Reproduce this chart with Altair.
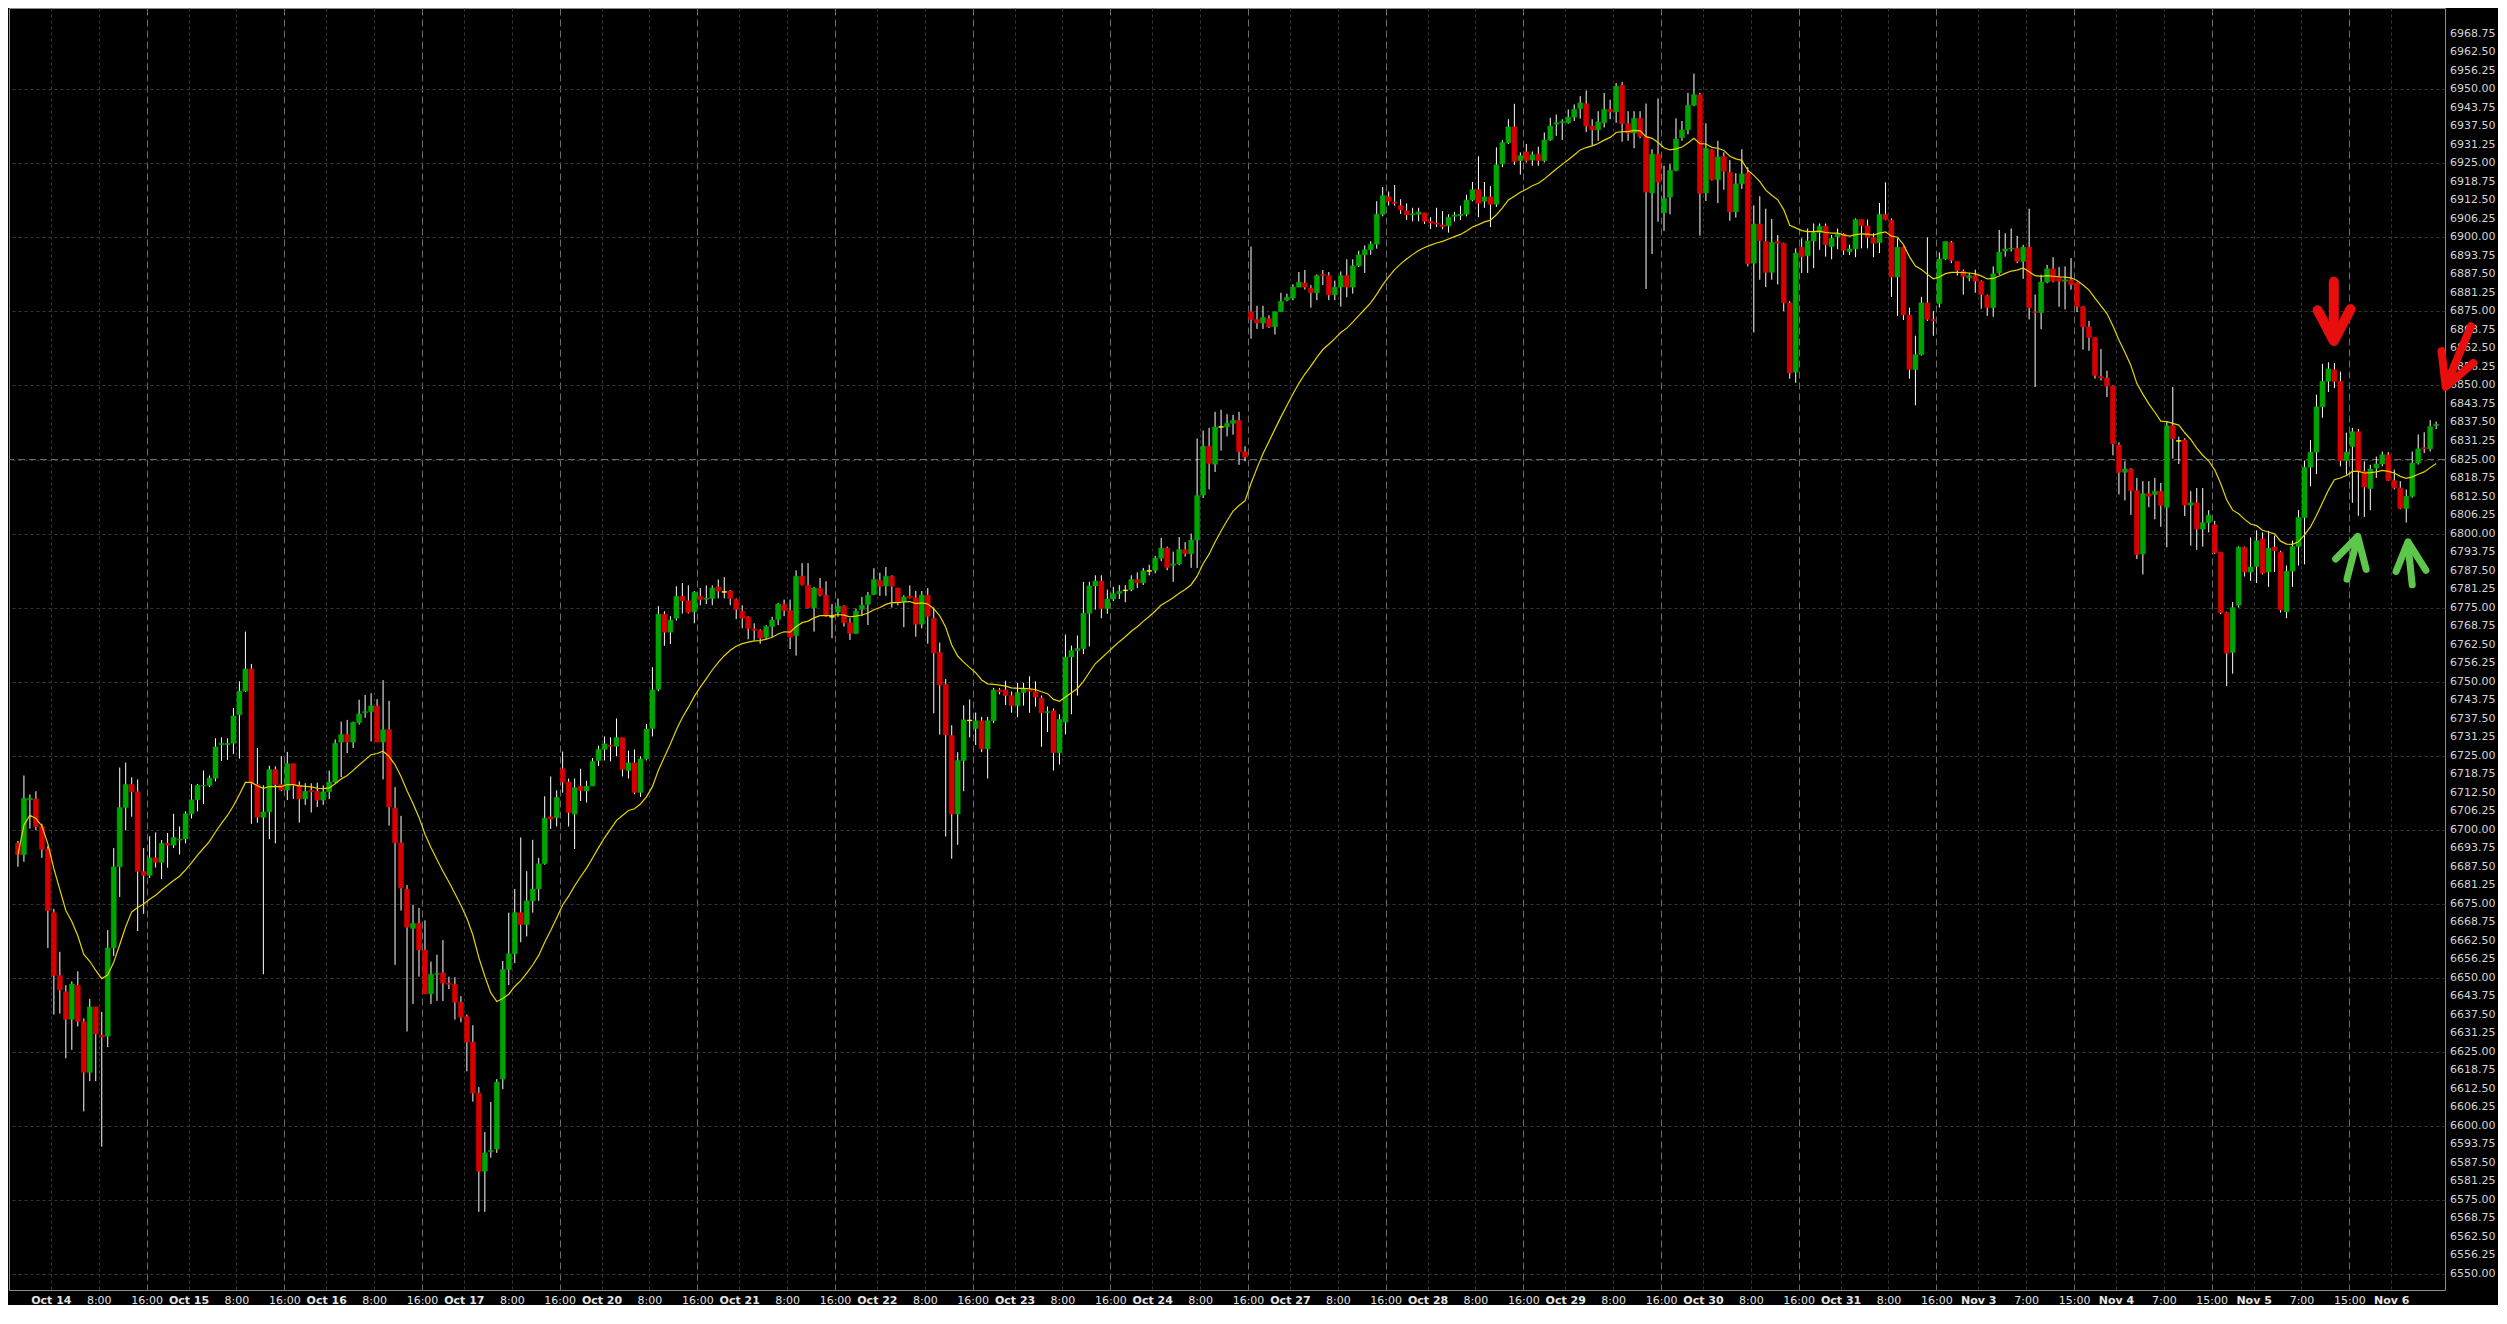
import altair as alt
import pandas as pd

# ---------------- data (H1 candles) ----------------
OPEN = [
6695.4, 6691.6, 6710.1, 6710.4, 6701.1, 6693.4, 6672.0, 6650.8, 6645.3, 6636.0,
6647.5, 6635.2, 6618.1, 6640.2, 6630.6, 6630.3, 6660.1, 6687.5, 6707.5, 6715.3,
6712.8, 6685.9, 6684.6, 6690.5, 6689.0, 6695.4, 6694.8, 6696.5, 6696.9, 6705.4,
6710.1, 6714.8, 6715.0, 6717.4, 6728.7, 6728.7, 6729.2, 6738.8, 6746.8, 6754.3,
6715.3, 6704.2, 6706.0, 6720.3, 6715.3, 6713.4, 6722.3, 6715.0, 6710.4, 6713.3,
6713.0, 6710.0, 6712.8, 6716.1, 6729.6, 6732.2, 6729.6, 6736.2, 6739.5, 6739.9,
6741.8, 6729.6, 6733.8, 6707.3, 6695.6, 6679.9, 6666.7, 6668.4, 6659.4, 6644.6,
6651.2, 6651.7, 6648.2, 6647.8, 6641.8, 6636.9, 6628.3, 6611.1, 6584.7, 6591.3,
6592.2, 6615.8, 6652.8, 6658.1, 6672.0, 6668.0, 6676.0, 6680.0, 6688.6, 6704.4,
6704.1, 6720.6, 6716.1, 6705.3, 6714.7, 6713.1, 6714.8, 6723.4, 6727.1, 6728.6,
6728.2, 6731.1, 6720.0, 6722.6, 6712.6, 6723.9, 6734.2, 6747.4, 6772.8, 6766.7,
6771.4, 6778.8, 6777.3, 6773.6, 6778.8, 6777.8, 6778.1, 6782.0, 6780.3, 6780.6,
6777.8, 6773.8, 6771.9, 6767.8, 6767.2, 6765.0, 6768.6, 6771.0, 6776.1, 6774.0,
6765.5, 6785.6, 6782.5, 6775.0, 6781.6, 6779.2, 6771.9, 6773.4, 6775.5, 6769.9,
6766.3, 6774.4, 6776.1, 6779.4, 6784.2, 6782.3, 6785.6, 6781.6, 6776.9, 6778.9,
6778.3, 6769.4, 6779.2, 6771.4, 6759.9, 6749.1, 6731.8, 6705.3, 6723.4, 6736.9,
6734.2, 6736.8, 6727.3, 6736.8, 6747.2, 6747.2, 6745.3, 6741.9, 6746.3, 6747.4,
6746.7, 6744.5, 6739.5, 6740.2, 6726.0, 6736.3, 6758.3, 6760.5, 6761.2, 6773.1,
6782.3, 6784.0, 6774.7, 6777.9, 6779.8, 6780.8, 6781.1, 6784.5, 6783.4, 6787.4,
6787.6, 6791.7, 6795.1, 6789.3, 6789.8, 6794.6, 6793.2, 6797.8, 6813.0, 6829.5,
6823.4, 6836.0, 6836.0, 6837.2, 6838.2, 6827.6, 6874.9, 6872.3, 6871.1, 6872.6,
6869.8, 6874.9, 6878.8, 6879.5, 6883.2, 6884.6, 6882.9, 6881.3, 6887.5, 6887.1,
6880.6, 6883.2, 6887.1, 6883.2, 6890.4, 6894.1, 6895.8, 6897.7, 6907.8, 6913.7,
6911.9, 6910.7, 6909.0, 6907.6, 6907.8, 6908.3, 6905.4, 6904.8, 6904.2, 6903.9,
6907.1, 6907.4, 6907.8, 6912.6, 6916.1, 6912.2, 6913.7, 6911.2, 6924.8, 6932.0,
6937.3, 6925.9, 6928.9, 6926.1, 6928.1, 6925.9, 6932.9, 6938.2, 6938.7, 6938.7,
6940.6, 6943.5, 6945.1, 6937.6, 6936.3, 6938.7, 6943.2, 6942.4, 6951.3, 6938.4,
6935.2, 6940.2, 6934.1, 6915.0, 6928.1, 6908.3, 6913.6, 6922.6, 6933.7, 6936.3,
6944.6, 6948.2, 6915.0, 6929.6, 6919.5, 6927.4, 6922.0, 6908.6, 6918.1, 6921.8,
6891.3, 6904.5, 6898.6, 6888.2, 6898.6, 6898.0, 6877.9, 6854.5, 6896.7, 6893.8,
6898.8, 6901.6, 6903.8, 6896.9, 6900.2, 6901.1, 6895.2, 6896.1, 6906.0, 6903.9,
6900.0, 6898.2, 6907.8, 6905.8, 6886.6, 6896.7, 6873.8, 6855.4, 6860.4, 6877.9,
6872.3, 6877.7, 6892.7, 6898.3, 6891.9, 6888.5, 6886.3, 6887.1, 6885.2, 6880.4,
6876.3, 6888.0, 6895.4, 6896.1, 6896.3, 6891.9, 6896.7, 6874.9, 6874.6, 6884.9,
6889.4, 6886.6, 6885.2, 6885.7, 6884.6, 6876.6, 6869.8, 6866.2, 6853.0, 6852.5,
6849.8, 6829.9, 6820.7, 6821.8, 6814.5, 6793.1, 6813.5, 6813.2, 6814.3, 6808.9,
6836.4, 6831.3, 6831.6, 6809.6, 6810.4, 6801.5, 6803.7, 6803.0, 6793.7, 6773.3,
6759.9, 6775.8, 6795.4, 6787.0, 6788.9, 6798.2, 6787.0, 6795.4, 6793.7, 6773.6,
6787.3, 6795.6, 6805.4, 6822.4, 6827.5, 6842.8, 6851.4, 6855.3, 6851.4, 6824.6,
6829.4, 6834.4, 6821.0, 6815.2, 6822.1, 6823.5, 6826.6, 6817.9, 6815.4, 6808.5,
6812.6, 6823.8, 6829.0, 6828.6, 6836.4,
]

HIGH = [
6696.2, 6718.3, 6711.9, 6713.0, 6702.0, 6694.5, 6673.3, 6658.8, 6647.5, 6648.8,
6652.2, 6636.3, 6642.9, 6640.2, 6638.5, 6666.1, 6693.8, 6721.0, 6722.7, 6717.7,
6717.0, 6693.8, 6697.8, 6699.1, 6696.5, 6698.9, 6705.4, 6701.1, 6706.2, 6715.4,
6715.4, 6720.0, 6718.3, 6730.9, 6731.2, 6730.9, 6741.1, 6750.1, 6766.9, 6756.0,
6727.6, 6715.0, 6721.6, 6721.4, 6724.9, 6726.3, 6722.3, 6716.3, 6715.7, 6715.7,
6715.9, 6715.0, 6720.0, 6730.5, 6736.5, 6737.1, 6736.5, 6743.9, 6745.5, 6746.1,
6744.1, 6750.5, 6743.5, 6714.4, 6704.7, 6681.3, 6674.7, 6673.6, 6669.4, 6655.5,
6657.8, 6662.7, 6650.4, 6650.2, 6643.8, 6637.6, 6634.0, 6613.1, 6597.9, 6608.1,
6615.8, 6655.7, 6672.0, 6680.0, 6697.4, 6686.0, 6696.6, 6690.5, 6711.3, 6718.0,
6713.3, 6726.4, 6717.3, 6717.3, 6720.6, 6716.5, 6724.2, 6728.4, 6731.5, 6731.2,
6737.6, 6731.1, 6726.7, 6727.1, 6724.8, 6735.7, 6754.9, 6775.5, 6773.8, 6772.1,
6782.2, 6783.3, 6782.5, 6780.6, 6781.6, 6782.5, 6782.5, 6784.5, 6785.3, 6780.9,
6778.1, 6775.8, 6772.1, 6769.7, 6767.7, 6769.1, 6771.9, 6776.6, 6777.7, 6777.7,
6787.6, 6790.0, 6790.0, 6782.0, 6785.0, 6783.9, 6776.2, 6778.1, 6775.8, 6771.4,
6774.7, 6778.6, 6780.3, 6788.3, 6786.8, 6788.7, 6785.9, 6781.7, 6779.2, 6782.5,
6780.6, 6780.6, 6781.6, 6775.0, 6763.2, 6750.9, 6735.3, 6726.2, 6742.0, 6744.0,
6739.6, 6738.1, 6738.1, 6747.9, 6747.9, 6750.3, 6746.7, 6749.6, 6749.6, 6751.8,
6750.1, 6745.3, 6741.6, 6741.0, 6739.0, 6765.9, 6762.2, 6765.6, 6783.7, 6783.7,
6785.9, 6785.9, 6781.1, 6782.0, 6782.6, 6782.6, 6785.9, 6786.9, 6788.4, 6789.5,
6792.5, 6798.5, 6795.6, 6793.9, 6798.8, 6797.1, 6800.0, 6832.1, 6834.8, 6835.7,
6841.1, 6841.8, 6840.3, 6840.1, 6841.1, 6829.5, 6896.9, 6876.9, 6876.9, 6873.7,
6874.9, 6881.3, 6881.0, 6884.2, 6888.3, 6889.0, 6883.9, 6887.5, 6889.0, 6888.3,
6885.4, 6888.5, 6892.6, 6892.6, 6895.5, 6897.3, 6898.7, 6912.2, 6917.0, 6915.5,
6917.7, 6912.9, 6911.5, 6910.0, 6910.0, 6908.3, 6906.8, 6910.0, 6908.9, 6907.8,
6908.6, 6910.7, 6914.4, 6918.7, 6927.4, 6918.7, 6917.3, 6930.4, 6932.8, 6939.9,
6945.1, 6928.7, 6931.5, 6929.0, 6930.6, 6935.4, 6940.4, 6941.5, 6939.9, 6943.2,
6944.9, 6947.7, 6949.6, 6939.9, 6942.6, 6948.8, 6946.5, 6952.1, 6952.5, 6942.6,
6942.6, 6942.6, 6945.2, 6929.8, 6946.9, 6924.2, 6924.8, 6940.2, 6939.3, 6948.8,
6955.3, 6948.8, 6938.5, 6929.8, 6932.6, 6928.7, 6926.1, 6921.7, 6929.8, 6923.7,
6910.8, 6913.9, 6909.7, 6906.2, 6900.8, 6898.2, 6878.5, 6896.3, 6899.7, 6903.0,
6904.7, 6904.7, 6904.7, 6900.8, 6903.0, 6901.4, 6897.5, 6906.4, 6906.0, 6906.0,
6901.4, 6911.6, 6918.6, 6906.4, 6899.7, 6896.9, 6876.3, 6866.8, 6879.9, 6900.0,
6875.1, 6894.9, 6898.6, 6898.8, 6891.9, 6889.1, 6888.0, 6889.1, 6885.5, 6880.7,
6890.2, 6902.5, 6901.4, 6903.0, 6900.5, 6897.5, 6909.7, 6880.7, 6887.4, 6890.7,
6893.3, 6890.0, 6890.2, 6893.0, 6884.8, 6876.8, 6871.8, 6866.2, 6862.3, 6855.0,
6850.0, 6830.8, 6824.4, 6822.1, 6818.8, 6817.7, 6817.7, 6818.8, 6817.1, 6837.8,
6849.5, 6832.7, 6832.2, 6814.3, 6815.4, 6815.4, 6807.9, 6804.3, 6793.7, 6773.6,
6776.9, 6795.7, 6795.6, 6798.7, 6801.1, 6800.4, 6800.9, 6799.3, 6794.2, 6789.2,
6797.6, 6807.9, 6824.6, 6831.6, 6846.9, 6857.3, 6857.8, 6857.6, 6854.7, 6834.1,
6835.7, 6835.3, 6824.4, 6823.2, 6826.0, 6827.7, 6827.5, 6821.6, 6817.7, 6814.9,
6827.7, 6833.5, 6834.2, 6838.3, 6837.8,
]

LOW = [
6687.5, 6689.2, 6700.4, 6699.8, 6690.5, 6660.1, 6637.6, 6637.9, 6622.8, 6625.7,
6633.6, 6604.9, 6615.1, 6615.1, 6593.0, 6626.6, 6657.4, 6677.3, 6699.8, 6704.4,
6665.8, 6671.6, 6683.7, 6687.2, 6683.3, 6687.2, 6693.8, 6691.6, 6695.4, 6703.8,
6706.2, 6708.7, 6714.4, 6716.3, 6723.2, 6723.6, 6725.6, 6724.0, 6746.5, 6702.0,
6702.4, 6651.2, 6696.8, 6695.4, 6713.0, 6710.0, 6710.4, 6702.4, 6708.4, 6705.8,
6707.7, 6708.4, 6710.4, 6715.7, 6717.7, 6725.9, 6727.6, 6735.5, 6737.8, 6729.8,
6729.6, 6717.0, 6701.4, 6654.4, 6672.7, 6631.9, 6641.2, 6650.4, 6644.6, 6641.2,
6642.2, 6642.2, 6646.2, 6635.9, 6635.0, 6618.4, 6608.2, 6571.0, 6571.0, 6589.3,
6590.9, 6612.4, 6647.5, 6655.0, 6662.0, 6664.0, 6672.0, 6676.0, 6688.2, 6700.3,
6701.1, 6712.5, 6701.1, 6693.5, 6709.7, 6709.2, 6714.8, 6721.5, 6723.4, 6723.1,
6724.8, 6718.0, 6717.3, 6712.0, 6711.1, 6723.4, 6731.5, 6746.8, 6762.1, 6762.7,
6770.6, 6773.0, 6773.0, 6769.7, 6775.8, 6776.2, 6775.8, 6778.1, 6778.1, 6775.8,
6771.1, 6768.0, 6764.3, 6764.1, 6762.8, 6764.3, 6765.0, 6769.1, 6772.1, 6761.0,
6758.8, 6782.5, 6774.7, 6766.9, 6778.8, 6771.9, 6764.7, 6771.9, 6768.6, 6764.1,
6766.1, 6772.1, 6769.1, 6779.2, 6779.0, 6779.0, 6775.0, 6775.8, 6768.4, 6778.1,
6765.2, 6768.0, 6762.8, 6739.3, 6732.1, 6697.7, 6690.2, 6694.9, 6713.0, 6731.2,
6728.6, 6726.2, 6717.3, 6736.0, 6745.7, 6742.1, 6739.5, 6738.0, 6741.9, 6739.5,
6741.6, 6728.0, 6733.0, 6720.0, 6722.0, 6732.2, 6739.0, 6745.3, 6759.3, 6761.9,
6774.3, 6771.4, 6772.9, 6777.2, 6777.9, 6776.8, 6780.5, 6781.6, 6782.6, 6785.9,
6786.6, 6790.7, 6787.6, 6783.7, 6789.3, 6792.2, 6788.4, 6788.4, 6812.0, 6814.9,
6820.8, 6828.0, 6832.8, 6833.4, 6823.2, 6824.4, 6865.8, 6869.1, 6869.1, 6869.4,
6867.2, 6874.9, 6878.4, 6878.8, 6883.2, 6882.4, 6876.3, 6878.8, 6883.9, 6878.8,
6878.8, 6876.6, 6879.8, 6881.0, 6890.0, 6888.0, 6894.1, 6896.2, 6907.1, 6910.7,
6910.7, 6907.9, 6905.9, 6905.4, 6905.4, 6904.5, 6902.8, 6903.5, 6902.8, 6901.6,
6905.4, 6905.9, 6907.1, 6912.2, 6906.8, 6910.0, 6903.5, 6910.3, 6923.7, 6931.5,
6924.5, 6921.2, 6925.3, 6924.2, 6924.2, 6925.3, 6932.6, 6934.3, 6932.9, 6938.4,
6939.3, 6940.1, 6935.6, 6930.9, 6932.6, 6937.1, 6939.9, 6938.7, 6932.3, 6932.6,
6930.1, 6933.5, 6882.6, 6894.4, 6905.3, 6902.2, 6907.8, 6922.3, 6932.6, 6934.8,
6944.3, 6900.6, 6912.3, 6919.2, 6911.6, 6916.1, 6905.6, 6906.7, 6916.4, 6890.2,
6867.9, 6885.7, 6883.2, 6885.7, 6884.1, 6875.1, 6852.3, 6850.9, 6888.0, 6888.0,
6889.6, 6895.8, 6893.5, 6892.6, 6896.0, 6894.1, 6894.1, 6893.3, 6896.3, 6896.3,
6893.3, 6894.7, 6905.8, 6879.9, 6873.5, 6872.1, 6852.3, 6843.3, 6860.1, 6871.8,
6866.8, 6876.3, 6892.4, 6891.3, 6887.1, 6880.7, 6885.2, 6881.3, 6875.9, 6873.5,
6873.2, 6887.4, 6893.5, 6895.2, 6891.3, 6886.0, 6872.3, 6849.5, 6869.0, 6884.5,
6884.8, 6876.6, 6875.7, 6882.4, 6874.8, 6862.1, 6861.7, 6852.3, 6851.7, 6846.1,
6826.4, 6813.2, 6811.2, 6806.3, 6791.4, 6786.2, 6808.9, 6804.8, 6802.3, 6795.4,
6825.3, 6823.5, 6805.9, 6795.9, 6794.5, 6795.6, 6800.4, 6793.1, 6772.8, 6748.5,
6752.7, 6775.0, 6785.5, 6784.0, 6783.3, 6786.2, 6782.0, 6787.0, 6773.3, 6771.4,
6782.0, 6789.2, 6789.6, 6816.0, 6820.1, 6839.1, 6847.8, 6849.1, 6822.7, 6819.9,
6810.4, 6806.0, 6805.6, 6807.9, 6818.8, 6822.7, 6817.7, 6814.9, 6808.2, 6803.7,
6812.1, 6823.3, 6827.2, 6827.7, 6835.3,
]

CLOSE = [
6691.6, 6710.6, 6710.6, 6701.1, 6693.4, 6672.7, 6650.8, 6645.9, 6636.0, 6647.9,
6635.3, 6618.1, 6640.2, 6631.0, 6630.0, 6660.1, 6687.5, 6707.5, 6715.3, 6712.8,
6685.9, 6684.6, 6690.5, 6689.0, 6695.4, 6694.8, 6697.4, 6696.9, 6705.4, 6710.1,
6715.0, 6715.0, 6717.4, 6728.0, 6729.2, 6729.2, 6738.4, 6746.8, 6754.3, 6715.7,
6704.2, 6706.0, 6720.3, 6715.3, 6713.4, 6722.3, 6715.0, 6710.4, 6713.0, 6712.8,
6710.0, 6712.8, 6716.1, 6729.2, 6732.2, 6729.6, 6736.2, 6739.1, 6739.9, 6741.8,
6729.6, 6733.8, 6707.7, 6695.6, 6680.3, 6667.1, 6668.4, 6659.4, 6644.6, 6651.2,
6651.5, 6648.2, 6647.8, 6641.8, 6636.7, 6628.3, 6611.1, 6584.7, 6590.9, 6591.7,
6614.8, 6652.8, 6658.1, 6672.0, 6668.0, 6676.0, 6680.0, 6688.5, 6703.9, 6703.6,
6710.9, 6716.1, 6705.8, 6714.2, 6713.3, 6714.7, 6723.1, 6727.1, 6729.0, 6728.2,
6731.1, 6720.4, 6722.6, 6712.6, 6723.9, 6734.0, 6747.2, 6772.8, 6766.7, 6770.8,
6778.8, 6777.3, 6773.4, 6780.2, 6777.7, 6778.2, 6781.6, 6780.6, 6780.3, 6778.1,
6774.4, 6771.4, 6768.0, 6767.3, 6764.7, 6768.6, 6770.8, 6776.2, 6774.0, 6765.0,
6785.6, 6782.7, 6775.0, 6781.6, 6779.2, 6772.3, 6771.9, 6775.5, 6769.9, 6766.3,
6773.8, 6775.8, 6779.2, 6784.5, 6782.2, 6785.6, 6782.2, 6776.6, 6778.6, 6778.3,
6769.4, 6779.2, 6772.1, 6759.7, 6748.8, 6732.0, 6705.3, 6723.4, 6737.1, 6736.9,
6736.8, 6727.3, 6736.8, 6747.2, 6746.6, 6745.3, 6741.9, 6746.3, 6747.7, 6746.7,
6744.8, 6739.5, 6739.9, 6726.0, 6737.3, 6758.3, 6760.5, 6761.2, 6773.1, 6782.3,
6784.0, 6774.7, 6777.9, 6779.8, 6780.5, 6780.8, 6784.5, 6783.4, 6787.4, 6787.4,
6791.7, 6795.1, 6788.5, 6789.8, 6794.6, 6793.2, 6797.8, 6812.8, 6829.5, 6823.7,
6836.0, 6836.0, 6837.2, 6838.2, 6827.6, 6825.8, 6872.3, 6871.1, 6873.0, 6869.8,
6874.9, 6878.4, 6879.8, 6883.2, 6884.9, 6883.2, 6881.4, 6887.1, 6887.1, 6880.6,
6883.2, 6887.1, 6883.2, 6890.4, 6894.1, 6895.8, 6897.7, 6907.8, 6914.1, 6912.2,
6911.5, 6909.3, 6907.6, 6908.0, 6908.6, 6905.4, 6904.8, 6904.5, 6903.6, 6906.8,
6907.6, 6907.8, 6912.6, 6916.1, 6911.5, 6913.7, 6911.2, 6924.5, 6932.0, 6937.3,
6925.6, 6927.6, 6925.9, 6927.9, 6925.9, 6932.9, 6937.6, 6938.7, 6939.1, 6940.6,
6943.2, 6945.4, 6937.6, 6936.3, 6939.0, 6943.2, 6942.4, 6951.0, 6938.4, 6935.2,
6940.2, 6934.1, 6915.3, 6928.1, 6918.6, 6913.1, 6922.6, 6933.2, 6936.3, 6944.6,
6948.2, 6914.8, 6930.1, 6919.5, 6927.2, 6922.3, 6908.6, 6918.1, 6921.4, 6891.1,
6904.5, 6898.9, 6888.2, 6898.3, 6898.0, 6877.9, 6854.2, 6894.7, 6893.5, 6898.8,
6901.6, 6903.8, 6897.5, 6899.7, 6901.1, 6895.6, 6896.1, 6906.0, 6903.9, 6900.0,
6898.0, 6907.8, 6906.0, 6886.6, 6896.7, 6873.8, 6855.4, 6860.4, 6877.9, 6872.3,
6871.8, 6892.7, 6898.6, 6892.2, 6888.9, 6886.8, 6887.1, 6885.2, 6880.7, 6876.3,
6887.7, 6895.0, 6896.1, 6896.4, 6891.9, 6896.7, 6876.2, 6874.6, 6884.9, 6889.4,
6885.2, 6885.2, 6885.7, 6884.1, 6876.6, 6869.8, 6866.2, 6853.4, 6852.5, 6849.8,
6830.3, 6820.7, 6821.8, 6814.5, 6792.9, 6813.5, 6812.6, 6814.3, 6809.5, 6836.4,
6832.0, 6831.3, 6809.6, 6810.4, 6801.5, 6803.7, 6806.2, 6793.5, 6773.3, 6759.6,
6775.0, 6795.4, 6787.0, 6788.7, 6797.6, 6786.6, 6795.1, 6794.2, 6774.2, 6787.3,
6795.6, 6805.4, 6822.4, 6827.5, 6842.8, 6851.4, 6855.6, 6851.4, 6824.6, 6827.5,
6834.4, 6821.0, 6815.7, 6821.8, 6823.5, 6826.6, 6817.9, 6815.4, 6808.5, 6812.6,
6823.8, 6828.6, 6828.6, 6836.1, 6836.9,
]

# time axis: bar index at which each day starts, names, hour labels
DAY_NAMES = ["Oct 14", "Oct 15", "Oct 16", "Oct 17", "Oct 20", "Oct 21", "Oct 22",
             "Oct 23", "Oct 24", "Oct 27", "Oct 28", "Oct 29", "Oct 30", "Oct 31",
             "Nov 3", "Nov 4", "Nov 5", "Nov 6"]
DAY_START = [6, 29, 52, 75, 98, 121, 144, 167, 190, 213, 236, 259, 282, 305,
             328, 351, 374, 397]
HOUR_1 = ["8:00"] * 14 + ["7:00"] * 3 + [""]
HOUR_2 = ["16:00"] * 14 + ["15:00"] * 3 + [""]

PRICE_TICKS = [6550 + 6.25 * k for k in range(68)]
EMA_PERIOD = 20
EMA_LAGS = 60
MARKED_PRICE = 6825.0

# hand-drawn arrows (bar index, price) — one polyline per stroke
ARROW_ID = ["r1s", "r1s", "r1h", "r1h", "r1h",
            "r2s", "r2s", "r2h", "r2h", "r2h",
            "g1s", "g1s", "g1h", "g1h", "g1h",
            "g2s", "g2s", "g2h", "g2h", "g2h"]
ARROW_X = [386.9, 386.9, 384.2, 386.9, 389.7,
           409.8, 405.9, 404.9, 405.6, 410.2,
           389.1, 390.8, 387.2, 390.9, 392.3,
           400.0, 399.3, 397.3, 399.3, 402.3]
ARROW_Y = [6885.0, 6866.5, 6875.4, 6865.0, 6875.8,
           6870.0, 6851.2, 6861.6, 6849.6, 6857.6,
           6784.6, 6798.0, 6791.4, 6799.0, 6787.9,
           6782.7, 6796.0, 6787.2, 6797.2, 6787.6]
ARROW_COLOR = ["red"] * 10 + ["green"] * 10
ARROW_W = [10] * 5 + [8] * 5 + [7] * 10

# ---------------- build ----------------
n = len(CLOSE)
df = pd.DataFrame({"i": list(range(n)), "o": OPEN, "h": HIGH, "l": LOW, "c": CLOSE})
df["dir"] = ["up" if c > o else ("down" if c < o else "doji") for o, c in zip(OPEN, CLOSE)]

tick_pos, tick_lab, day_pos, sep_pos = [], [], [], []
for name, s, h1, h2 in zip(DAY_NAMES, DAY_START, HOUR_1, HOUR_2):
    tick_pos.append(s - 0.5); tick_lab.append(name); day_pos.append(s - 0.5)
    if h1:
        tick_pos.append(s + 7.5); tick_lab.append(h1)
    if h2:
        tick_pos.append(s + 15.5); tick_lab.append(h2); sep_pos.append(s + 15.5)

pos_js = "[" + ",".join(repr(p) for p in tick_pos) + "]"
lab_js = "[" + ",".join("'" + t + "'" for t in tick_lab) + "]"
day_js = "[" + ",".join(repr(p) for p in day_pos) + "]"
sep_js = "[" + ",".join(repr(p) for p in sep_pos) + "]"

# exponential moving average, evaluated by Vega from lagged closes
dec = 1 - 2.0 / (EMA_PERIOD + 1)
lag_defs = [{"op": "lag", "field": "c", "param": k, "as": f"lag{k}"} for k in range(1, EMA_LAGS)]
num_terms = ["datum.c"] + [f"{dec ** k:.6f}*(isValid(datum.lag{k})?datum.lag{k}:0)" for k in range(1, EMA_LAGS)]
den_terms = ["1"] + [f"{dec ** k:.6f}*(isValid(datum.lag{k})?1:0)" for k in range(1, EMA_LAGS)]
ema_expr = "(" + "+".join(num_terms) + ")/(" + "+".join(den_terms) + ")"

FONT = "DejaVu Sans"
PLOT_W, PLOT_H = 2436, 1282
xscale = alt.Scale(domain=[-0.66, 404.64], nice=False, zero=False)
yscale = alt.Scale(domain=[6544.6, 6977.45], nice=False, zero=False)

xaxis = alt.Axis(
    values=tick_pos, labelExpr=f"{lab_js}[indexof({pos_js}, datum.value)]",
    labelAngle=0, labelAlign="center", labelFont=FONT, labelFontSize=11,
    labelColor="#e6e6e6", labelPadding=4, labelOverlap=False, labelFlush=False,
    labelFontWeight={"condition": {"test": f"indexof({day_js}, datum.value) >= 0", "value": "bold"},
                     "value": "normal"},
    grid=True,
    gridColor={"condition": {"test": f"indexof({sep_js}, datum.value) >= 0", "value": "#6c6c6c"},
               "value": "#363636"},
    gridDash={"condition": {"test": f"indexof({sep_js}, datum.value) >= 0", "value": [7, 4]},
              "value": [3, 3]},
    ticks=False, domain=False, title=None)

yaxis = alt.Axis(
    orient="right", values=PRICE_TICKS, labels=False,
    grid=True, gridColor="#363636", gridDash=[3, 3], ticks=False, domain=False, title=None)

X = alt.X("i:Q", scale=xscale, axis=xaxis)

base = alt.Chart(df)

grid_layer = base.mark_rule(opacity=0).encode(
    x=X, y=alt.Y("c:Q", scale=yscale, axis=yaxis))

price_df = pd.DataFrame({"p": PRICE_TICKS})
price_labels = alt.Chart(price_df).mark_text(
    align="left", baseline="middle", font=FONT, fontSize=11, color="#d4d4d4", dx=5
).encode(x=alt.value(PLOT_W), y=alt.Y("p:Q", scale=yscale), text=alt.Text("p:Q", format=".2f"))

marked = alt.Chart(pd.DataFrame({"p": [MARKED_PRICE]})).mark_rule(
    color="#6c6c6c", strokeDash=[7, 4], strokeWidth=1).encode(y=alt.Y("p:Q", scale=yscale))

wicks = base.mark_rule(color="#ffffff", strokeWidth=1).encode(
    x=alt.X("i:Q", scale=xscale), y=alt.Y("l:Q", scale=yscale), y2="h:Q")

cscale = alt.Scale(domain=["up", "down", "doji"], range=["#00a400", "#d60000", "#ffff00"])
bodies = base.mark_bar(size=5, strokeWidth=0.5).encode(
    x=alt.X("i:Q", scale=xscale), y=alt.Y("o:Q", scale=yscale), y2="c:Q",
    color=alt.Color("dir:N", scale=cscale, legend=None),
    stroke=alt.Stroke("dir:N", scale=cscale, legend=None))

dojis = base.transform_filter("datum.dir == 'doji'").mark_tick(
    color="#ffff00", orient="horizontal", size=5, thickness=1.5).encode(
    x=alt.X("i:Q", scale=xscale), y=alt.Y("o:Q", scale=yscale))

ema = base.transform_window(
    window=lag_defs, sort=[alt.SortField("i")]
).transform_calculate(ma=ema_expr).mark_line(color="#e6d400", strokeWidth=1.2).encode(
    x=alt.X("i:Q", scale=xscale), y=alt.Y("ma:Q", scale=yscale))

arr_df = pd.DataFrame({"id": ARROW_ID, "x": ARROW_X, "y": ARROW_Y, "col": ARROW_COLOR,
                       "w": ARROW_W, "k": list(range(len(ARROW_ID)))})
arrows = alt.Chart(arr_df).mark_line(strokeCap="round", strokeJoin="round").encode(
    x=alt.X("x:Q", scale=xscale), y=alt.Y("y:Q", scale=yscale),
    detail="id:N", order="k:Q",
    color=alt.Color("col:N", scale=alt.Scale(domain=["red", "green"],
                                             range=["#e80e0e", "#5fc64c"]), legend=None),
    strokeWidth=alt.StrokeWidth("w:Q", scale=None))

chart = alt.layer(grid_layer, price_labels, marked, wicks, bodies, dojis, ema, arrows).resolve_scale(
    color="independent", stroke="independent"
).properties(
    width=PLOT_W, height=PLOT_H, background="#000000",
    padding={"left": 0, "top": 0, "right": 2, "bottom": 0}
).configure_view(stroke="#8c8c8c", strokeWidth=1)

chart.save("out.html", embed_options={"renderer": "svg", "actions": False})
